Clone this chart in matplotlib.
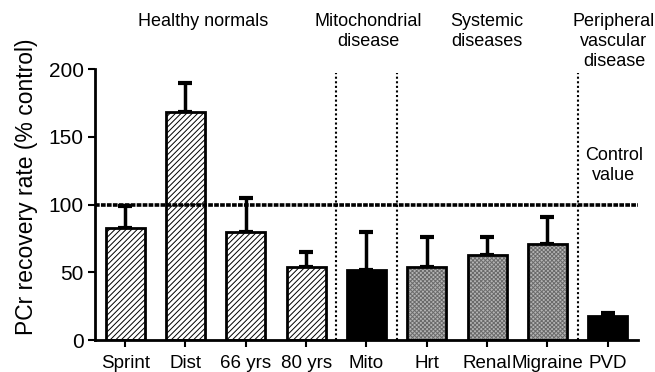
import matplotlib
matplotlib.use("Agg")
import matplotlib.pyplot as plt

plt.rcParams['font.family'] = ['Liberation Sans', 'DejaVu Sans']

categories = ["Sprint", "Dist", "66 yrs", "80 yrs", "Mito", "Hrt", "Renal", "Migraine", "PVD"]
values = [83, 168, 80, 54, 52, 54, 63, 71, 18]
errors = [16, 22, 25, 11, 28, 22, 13, 20, 2]
groups = ["healthy", "healthy", "healthy", "healthy", "mito", "systemic", "systemic", "systemic", "pvd"]
group_labels = ["Healthy normals", "Mitochondrial\ndisease", "Systemic\ndiseases", "Peripheral\nvascular\ndisease"]
control_value = 100

plt.rcParams['hatch.linewidth'] = 0.7

fig = plt.figure(figsize=(6.55, 3.72), dpi=100)
ax = fig.add_axes([0.145, 0.086, 0.829, 0.7285])

x = list(range(len(categories)))
width = 0.65

styles = {
    "healthy": dict(facecolor="white", hatch="//////", hatchcolor="black"),
    "mito": dict(facecolor="black", hatch=None, hatchcolor="black"),
    "systemic": dict(facecolor="#b4b4b4", hatch="xxxxxxxx", hatchcolor="#6a6a6a"),
    "pvd": dict(facecolor="black", hatch=None, hatchcolor="black"),
}

for xi, v, g in zip(x, values, groups):
    st = styles[g]
    # fill + hatch layer
    ax.bar(xi, v, width=width, color=st["facecolor"], hatch=st["hatch"],
           edgecolor=st["hatchcolor"], linewidth=0, zorder=2)
    # outline layer
    ax.bar(xi, v, width=width, color="none", edgecolor="black",
           linewidth=2, zorder=3)

ax.errorbar(x, values, yerr=[[0] * len(values), errors], fmt="none",
            ecolor="black", elinewidth=2.5, capsize=5, capthick=3, zorder=1)

# control line
ax.axhline(control_value, color="black", linestyle=(0, (1.3, 0.35)), linewidth=2.6, zorder=4)

# group separators
for sep in [3.5, 4.5, 7.5]:
    ax.plot([sep, sep], [0, 197], color="black", linestyle=(0, (1, 1.2)), linewidth=1.5, zorder=1)

ax.set_xlim(-0.5, 8.5)
ax.set_ylim(0, 200)
ax.set_yticks([0, 50, 100, 150, 200])
ax.set_xticks(x)
ax.set_xticklabels(categories, fontsize=13.5)
ax.tick_params(axis='y', labelsize=15, width=1.5, length=5, pad=3)
ax.tick_params(axis='x', width=1.5, length=5, pad=6)
for s in ["top", "right"]:
    ax.spines[s].set_visible(False)
ax.spines["left"].set_linewidth(2)
ax.spines["bottom"].set_linewidth(2)

ax.set_ylabel("PCr recovery rate (% control)", fontsize=16.5)
ax.yaxis.set_label_coords(-0.105, 0.565)

# group headings (figure coordinates in pixels)
def fig_text(px, py, s, **kw):
    fig.text(px / 655, 1 - py / 372, s, ha="center", va="top", fontsize=13,
             linespacing=1.25, **kw)

fig_text(203, 13, group_labels[0])
fig_text(368, 13, group_labels[1])
fig_text(487, 13, group_labels[2])
fig_text(614, 13, group_labels[3])
fig_text(614, 147, "Control\nvalue")

fig.savefig("out.png", dpi=100)
